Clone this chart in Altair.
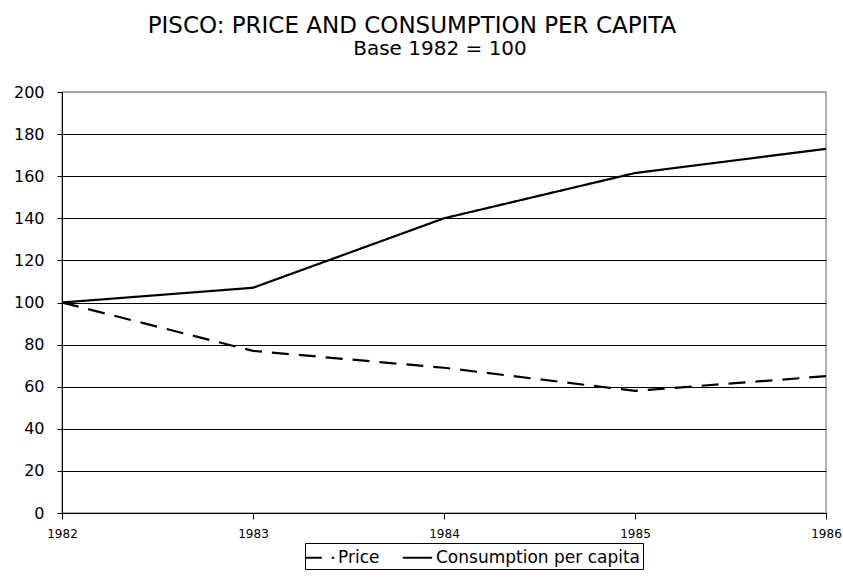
import altair as alt
import pandas as pd

years = [1982, 1983, 1984, 1985, 1986]
price = [100, 77, 69, 58, 65]
consumption = [100, 107, 140, 161.5, 173]
series_names = ["Price", "Consumption per capita"]
title_text = "PISCO: PRICE AND CONSUMPTION PER CAPITA"
subtitle_text = "Base 1982 = 100"

rows = []
for y, p, c in zip(years, price, consumption):
    rows.append({"year": y, "series": series_names[0], "value": p})
    rows.append({"year": y, "series": series_names[1], "value": c})
df = pd.DataFrame(rows)

FONT = "DejaVu Sans"

lines = alt.Chart(df).mark_line(color="black", strokeWidth=2.2, clip=True).encode(
    x=alt.X("year:Q", scale=alt.Scale(domain=[1982, 1986], nice=False, zero=False),
            axis=alt.Axis(values=years, format="d", title=None, grid=False,
                          labelFontSize=12, labelFlush=False, labelPadding=9,
                          tickSize=6, tickColor="black", domainColor="black",
                          labelColor="black", labelFont=FONT)),
    y=alt.Y("value:Q", scale=alt.Scale(domain=[0, 200], nice=False),
            axis=alt.Axis(values=list(range(0, 201, 20)), title=None,
                          labelFontSize=16, labelPadding=13, tickSize=5,
                          tickColor="black", domainColor="black",
                          labelColor="black", labelFont=FONT,
                          gridColor={"condition": {"test": "datum.value === 200", "value": "#999999"}, "value": "black"},
                          gridWidth=1)),
    strokeDash=alt.StrokeDash("series:N",
                              scale=alt.Scale(domain=series_names, range=[[17, 10], [1, 0]]),
                              legend=alt.Legend(title=None, orient="none", legendX=243, legendY=451,
                                                direction="horizontal", strokeColor="black",
                                                padding=3, symbolType="M-1.4,0H1.4", symbolSize=441,
                                                symbolStrokeWidth=2, symbolStrokeColor="black",
                                                labelFontSize=17, labelFont=FONT, labelColor="black",
                                                columnPadding=18, labelOffset=7, labelLimit=400)),
    order=alt.Order("year:Q"),
)

sub = alt.Chart(pd.DataFrame({"t": [subtitle_text]})).mark_text(
    font=FONT, fontSize=20, align="center", baseline="alphabetic", color="black"
).encode(x=alt.value(378), y=alt.value(-37), text="t:N")

chart = alt.layer(lines, sub).properties(
    width=764, height=421,
    autosize=alt.AutoSizeParams(type="none"),
    padding={"left": 62, "top": 92, "right": 17, "bottom": 68},
    title=alt.TitleParams(text=title_text, anchor="middle", frame="group",
                          dx=-32, offset=1, fontSize=23,
                          font=FONT, fontWeight="normal", color="black"),
    background="white",
).configure_view(stroke="#999999", strokeWidth=1.5)

chart.save("out.html", embed_options={"renderer": "svg", "actions": False})
